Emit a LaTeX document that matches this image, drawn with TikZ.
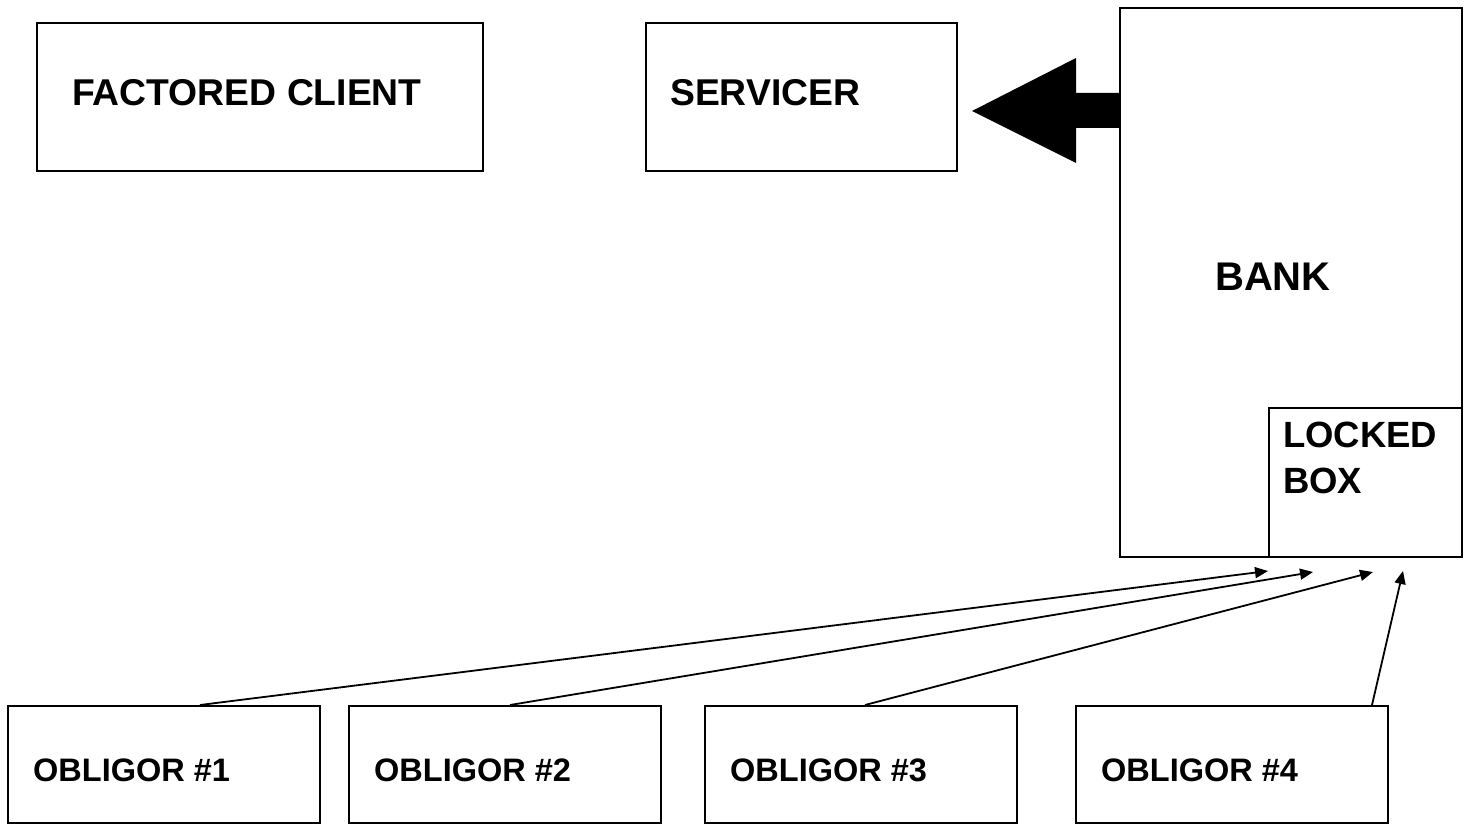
\documentclass[tikz,border=0pt]{standalone}
\usepackage{fontspec}
\setmainfont{Liberation Sans}
\usetikzlibrary{arrows.meta}
\tikzset{
  box/.style={draw=black, line width=1.7pt, rectangle, inner sep=0pt, anchor=north west, fill=white},
  lbl/.style={anchor=base west, inner sep=0pt, font=\fontsize{#1}{#1}\selectfont\bfseries},
  feed/.style={draw=black, line width=1.8pt, -{Triangle[length=13pt,width=11pt]}},
}
\begin{document}
\begin{tikzpicture}[x=1pt,y=-1pt]
  \useasboundingbox (0,0) rectangle (1470,824);

  % upper parties
  \node[box, minimum width=446pt, minimum height=148pt] (fc) at (36,22) {};
  \node[box, minimum width=311pt, minimum height=148pt] (srv) at (645,22) {};
  \node[box, minimum width=342pt, minimum height=549pt] (bank) at (1119,7) {};
  \node[box, minimum width=193pt, minimum height=149pt] (lock) at (1268,407) {};

  \node[lbl=37.3] (fctext) at (72,106) {FACTORED CLIENT};
  \node[lbl=37.3] (srvtext) at (670,106) {SERVICER};
  \node[lbl=40] (banktext) at (1215,290) {BANK};
  \node[lbl=36.5] (locktext) at (1283,447) {LOCKED};
  \node[lbl=36.5] (boxtext) at (1283,493) {BOX};

  % obligors
  \foreach \i/\x in {1/7, 2/348, 3/704, 4/1075}{
    \node[box, minimum width=312pt, minimum height=117pt] (ob\i) at (\x,705) {};
    \node[lbl=32.5] (ob\i text) at (\x+26,781) {OBLIGOR \#\i};
  }

  % wide arrow from the bank to the servicer
  \fill[black] (bank.west |- 0,93) -- (1076,93) -- (1076,58) -- (972,111)
    -- (1076,163) -- (1076,128) -- (bank.west |- 0,128) -- cycle;

  % payments from obligors into the locked box
  \coordinate (p1) at (1268,571);
  \coordinate (p2) at (1313,572);
  \coordinate (p3) at (1373,572);
  \coordinate (p4) at (1403,571);
  \draw[feed] (ob1.north west) ++(193,0) coordinate (s1) -- (p1);
  \draw[feed] (ob2.north west) ++(162,0) coordinate (s2) -- (p2);
  \draw[feed] (ob3.north west) ++(161,0) coordinate (s3) -- (p3);
  \draw[feed] (ob4.north west) ++(297,0) coordinate (s4) -- (p4);
\end{tikzpicture}
\end{document}
